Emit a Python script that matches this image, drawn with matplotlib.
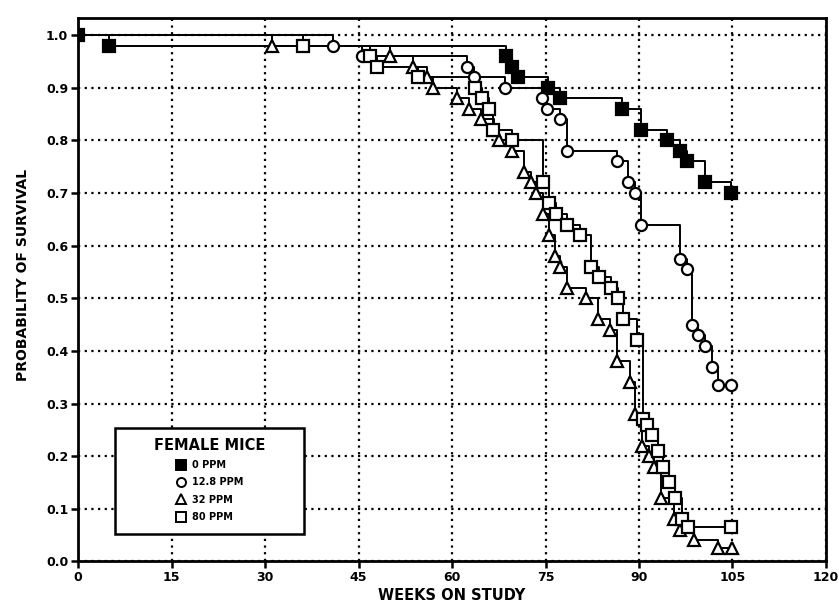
import numpy as np
import matplotlib.pyplot as plt
from matplotlib.lines import Line2D
from matplotlib.patches import Rectangle

plt.rcParams['font.family'] = 'DejaVu Sans'
plt.rcParams['font.weight'] = 'bold'

# Kaplan-Meier survival, female mice (event weeks / survival after event)
zero_weeks = [0, 5.0, 68.7, 69.6, 70.6, 75.4, 77.4, 87.3, 90.4, 94.5, 96.6, 97.7, 100.6, 104.7]
zero_surv = [1.0, 0.98, 0.96, 0.94, 0.92, 0.90, 0.88, 0.86, 0.82, 0.80, 0.78, 0.76, 0.72, 0.70]

low_weeks = [40.9, 45.5, 62.4, 63.6, 68.5, 74.4, 75.3, 77.4, 78.4, 86.5, 88.3, 89.4, 90.3,
             96.6, 97.7, 98.5, 99.4, 100.6, 101.7, 102.6, 104.7]
low_surv = [0.98, 0.96, 0.94, 0.92, 0.90, 0.88, 0.86, 0.84, 0.78, 0.76, 0.72, 0.70, 0.64,
            0.575, 0.555, 0.45, 0.43, 0.41, 0.37, 0.335, 0.335]

mid_weeks = [31.1, 50.1, 53.8, 56.0, 56.9, 60.8, 62.8, 64.6, 66.7, 67.6, 69.6, 71.6, 72.6,
             73.5, 74.6, 75.6, 76.5, 77.4, 78.5, 81.5, 83.5, 85.4, 86.5, 88.5, 89.4, 90.5,
             91.6, 92.4, 93.6, 95.6, 96.5, 98.8, 102.7, 104.9]
mid_surv = [0.98, 0.96, 0.94, 0.92, 0.90, 0.88, 0.86, 0.84, 0.82, 0.80, 0.78, 0.74, 0.72,
            0.70, 0.66, 0.62, 0.58, 0.56, 0.52, 0.50, 0.46, 0.44, 0.38, 0.34, 0.28, 0.22,
            0.20, 0.18, 0.12, 0.08, 0.06, 0.04, 0.025, 0.025]

high_weeks = [36.1, 46.9, 47.9, 54.6, 63.7, 64.8, 65.9, 66.6, 69.6, 74.6, 75.6, 76.7, 78.5,
              80.5, 82.3, 83.6, 85.5, 86.6, 87.5, 89.6, 90.7, 91.3, 92.1, 93.0, 93.8, 94.8,
              95.8, 96.9, 97.8, 104.7]
high_surv = [0.98, 0.96, 0.94, 0.92, 0.90, 0.88, 0.86, 0.82, 0.80, 0.72, 0.68, 0.66, 0.64,
             0.62, 0.56, 0.54, 0.52, 0.50, 0.46, 0.42, 0.27, 0.26, 0.24, 0.21, 0.18, 0.15,
             0.12, 0.08, 0.065, 0.065]

group_labels = ['0 PPM', '12.8 PPM', '32 PPM', '80 PPM']
group_markers = ['s', 'o', '^', 's']
group_fill = ['black', 'white', 'white', 'white']

x_ticks = [0, 15, 30, 45, 60, 75, 90, 105, 120]
y_ticks = [0.0, 0.1, 0.2, 0.3, 0.4, 0.5, 0.6, 0.7, 0.8, 0.9, 1.0]

series = [(zero_weeks, zero_surv), (low_weeks, low_surv),
          (mid_weeks, mid_surv), (high_weeks, high_surv)]

fig = plt.figure(figsize=(8.39, 6.06), dpi=100)
ax = fig.add_axes([0.093, 0.0735, 0.8915, 0.8965])

for (weeks, surv), mk, fc in zip(series, group_markers, group_fill):
    # curves all start at survival 1.0 at week 0
    if weeks[0] > 0:
        xs = np.r_[0, weeks]
        ys = np.r_[1.0, surv]
    else:
        xs, ys = np.asarray(weeks), np.asarray(surv)
    ax.step(xs, ys, where='post', color='black', lw=1.4, zorder=3)
    ax.plot(weeks, surv, ls='none', marker=mk, ms=8 if mk != '^' else 8.5,
            mfc=fc, mec='black', mew=1.6, zorder=4)

ax.set_xlim(0, 120)
ax.set_ylim(0, 1.032)
ax.set_xticks(x_ticks)
ax.set_yticks(y_ticks)
ax.set_yticklabels([f'{v:.1f}' for v in y_ticks])
ax.tick_params(direction='out', length=5, width=1.8, labelsize=9, pad=2)
ax.grid(True, color='black', linestyle=(0, (1, 2.0)), linewidth=1.6)
ax.set_axisbelow(True)
for sp in ax.spines.values():
    sp.set_linewidth(2.0)

ax.set_xlabel('WEEKS ON STUDY', fontsize=10.5, fontweight='bold')
ax.xaxis.set_label_coords(0.499, -0.048)
ax.set_ylabel('PROBABILITY OF SURVIVAL', fontsize=10, fontweight='bold')
ax.yaxis.set_label_coords(-0.064, 0.527)

# legend box
ax.add_patch(Rectangle((0.0495, 0.05), 0.2525, 0.196, transform=ax.transAxes,
                       facecolor='white', edgecolor='black', lw=1.8, zorder=5))
handles = [Line2D([], [], ls='none', marker=mk, ms=6.5, mfc=fc, mec='black', mew=1.4)
           for mk, fc in zip(group_markers, group_fill)]
leg = ax.legend(handles, group_labels, title='FEMALE MICE', loc='center',
                bbox_to_anchor=(0.176, 0.150), frameon=False,
                prop={'size': 7, 'weight': 'bold'},
                title_fontproperties={'size': 10.5, 'weight': 'bold'},
                handlelength=1.0, handletextpad=0.6, labelspacing=0.75, borderpad=0)
leg.set_zorder(6)

fig.savefig('out.png', dpi=100)
